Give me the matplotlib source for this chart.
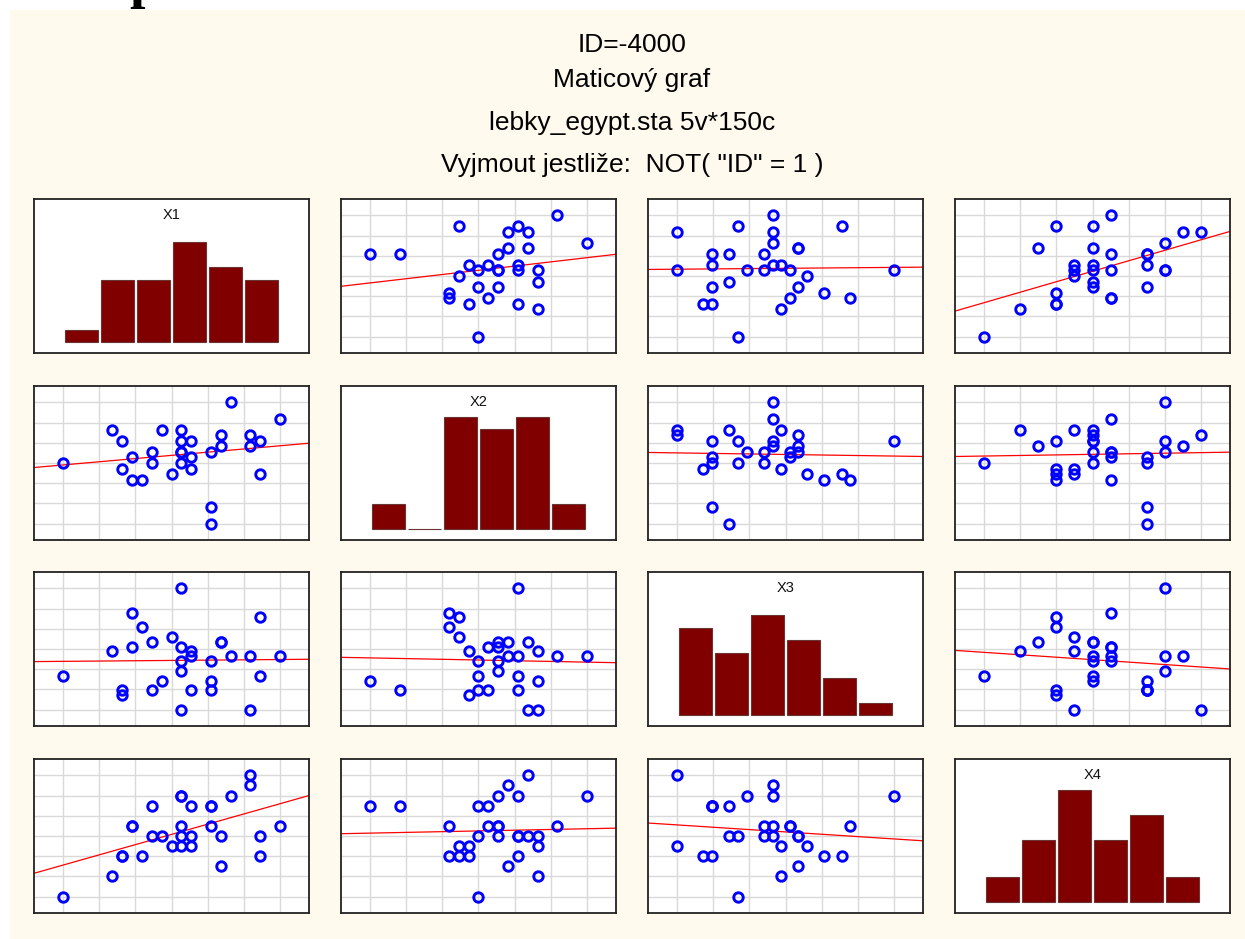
# -*- coding: utf-8 -*-
"""
Maticový graf - lebky_egypt.sta, skupina ID=-4000
"""
import matplotlib
matplotlib.use('Agg')
import matplotlib.pyplot as plt
from matplotlib.patches import Rectangle
import numpy as np

plt.rcParams['font.family'] = ['Liberation Sans', 'DejaVu Sans']

# data: 30 lebek (ID=-4000)
names = ['X1', 'X2', 'X3', 'X4']
X1 = [131, 125, 131, 119, 136, 138, 139, 125, 131, 134, 129, 134, 126, 132, 141,
      131, 135, 132, 139, 132, 126, 135, 134, 128, 130, 138, 128, 127, 131, 124]
X2 = [138, 131, 132, 132, 143, 137, 130, 136, 134, 134, 138, 121, 129, 136, 140,
      134, 137, 133, 136, 131, 133, 135, 124, 134, 130, 135, 132, 129, 136, 138]
X3 = [89, 92, 99, 96, 100, 89, 108, 93, 102, 99, 95, 95, 109, 100, 100,
      97, 103, 93, 96, 101, 102, 103, 93, 103, 104, 100, 93, 106, 114, 101]
X4 = [49, 48, 50, 44, 54, 56, 48, 48, 51, 51, 50, 53, 51, 50, 51,
      54, 50, 53, 50, 49, 51, 47, 53, 50, 49, 55, 53, 48, 54, 46]
data = [np.array(v, dtype=float) for v in (X1, X2, X3, X4)]

titles = ['ID=-4000', 'Maticový graf', 'lebky_egypt.sta 5v*150c',
          'Vyjmout jestliže:  NOT( "ID" = 1 )']

W, H = 1245, 939
NBINS = 6
PAD = 0.81

fig = plt.figure(figsize=(W / 100, H / 100), dpi=100)
fig.patch.set_facecolor('white')
fig.patches.append(Rectangle((10 / W, 0), 1 - 10 / W, 1 - 10 / H, transform=fig.transFigure,
                             facecolor='#fff9ee', edgecolor='none', zorder=-5))

# useknuté písmeno nahoře
fig.text(145 / W, 1 + 3 / H, 'p', ha='center', va='baseline', fontsize=40,
         family='Liberation Serif', fontweight='bold', color='black')

for txt, yy in zip(titles, [45, 80, 123, 165]):
    fig.text(632 / W, 1 - yy / H, txt, ha='center', va='center', fontsize=19, color='black')

col_x = [34, 341, 648, 955]
row_y = [199, 386, 572, 759]
pw, ph = 275, 154


def limits(v):
    mn, mx = v.min(), v.max()
    sp = (mx - mn) / NBINS
    return mn, mx, sp, (mn - PAD * sp, mx + PAD * sp)


for i in range(4):
    for j in range(4):
        ax = fig.add_axes([col_x[j] / W, 1 - (row_y[i] + ph) / H, pw / W, ph / H])
        ax.set_facecolor('white')
        for s in ax.spines.values():
            s.set_color('#222222')
            s.set_linewidth(1.3)
        ax.tick_params(length=0, labelbottom=False, labelleft=False)

        if i == j:
            v = data[i]
            mn, mx, sp, lim = limits(v)
            idx = np.clip(np.ceil((v - mn) / sp - 1e-9) - 1, 0, NBINS - 1).astype(int)
            counts = np.bincount(idx, minlength=NBINS)
            centers = mn + sp * (np.arange(NBINS) + 0.5)
            ax.bar(centers, counts, width=sp * 0.91, color='#800000',
                   edgecolor='#6b3535', linewidth=0.8, zorder=2)
            ax.set_xlim(lim)
            ax.set_ylim(-0.85, 11.47)
            ax.set_xticks([])
            ax.set_yticks([])
            ax.text(0.5, 1 - 16 / ph, names[i], transform=ax.transAxes,
                    ha='center', va='center', fontsize=10.5, color='#111111')
            continue

        x, y = data[j], data[i]
        xmn, xmx, xsp, xlim = limits(x)
        ymn, ymx, ysp, ylim = limits(y)
        ax.set_xticks(np.linspace(xmn, xmx, NBINS + 1))
        ax.set_yticks(np.linspace(ymn, ymx, NBINS + 1))
        ax.grid(True, color='#d9d9d9', linewidth=1.0, zorder=0)
        ax.set_axisbelow(True)

        k, q = np.polyfit(x, y, 1)
        xx = np.array(xlim)
        ax.plot(xx, k * xx + q, color='red', linewidth=0.9, zorder=2)
        ax.plot(x, y, 'o', markerfacecolor='none', markeredgecolor='blue',
                markersize=6.8, markeredgewidth=2.1, zorder=3)
        ax.set_xlim(xlim)
        ax.set_ylim(ylim)

plt.savefig('out.png', dpi=100)
print('ulozeno: out.png')
